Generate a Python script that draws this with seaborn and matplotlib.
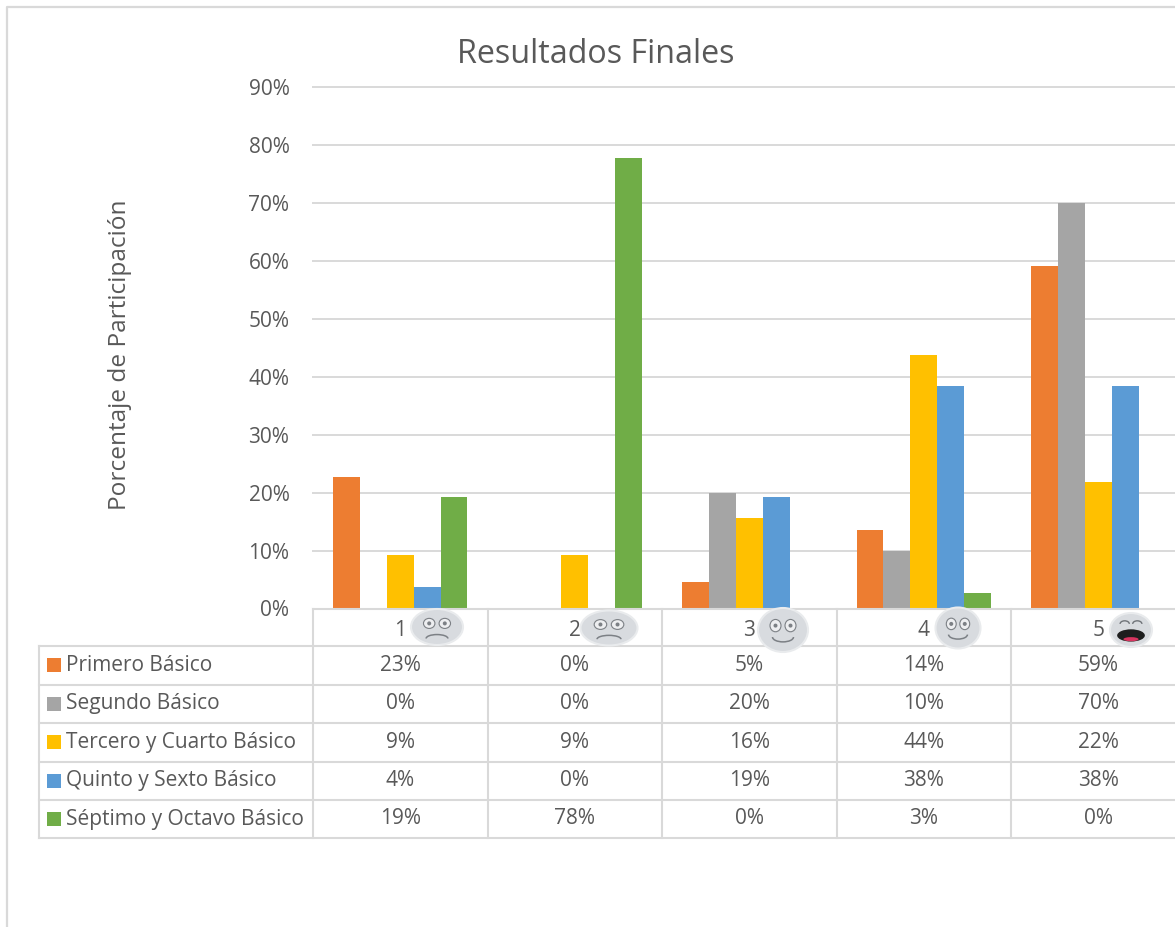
import matplotlib
matplotlib.use("Agg")
import matplotlib.pyplot as plt
from matplotlib.patches import Arc, Ellipse, Rectangle
import pandas as pd
import seaborn as sns

# Values (percent)
categories = ["1", "2", "3", "4", "5"]
grades = ["Primero Básico", "Segundo Básico", "Tercero y Cuarto Básico",
          "Quinto y Sexto Básico", "Séptimo y Octavo Básico"]
primero = [22.7, 0, 4.55, 13.6, 59.1]
segundo = [0, 0, 20, 10, 70]
tercero = [9.3, 9.3, 15.6, 43.75, 21.8]
quinto = [3.7, 0, 19.2, 38.4, 38.4]
septimo = [19.3, 77.8, 0, 2.7, 0]
colors = ["#ED7D31", "#A5A5A5", "#FFC000", "#5B9BD5", "#70AD47"]

series = [primero, segundo, tercero, quinto, septimo]
df = pd.DataFrame([
    {"nota": c, "grado": g, "valor": v}
    for g, vals in zip(grades, series)
    for c, v in zip(categories, vals)
])

TXT = "#595959"
GRID = "#D9D9D9"
plt.rcParams["font.family"] = ["Open Sans", "DejaVu Sans"]

W, H = 1175, 927
fig = plt.figure(figsize=(W / 100, H / 100), dpi=100)

# Plot area runs a little past the right edge, the picture is cropped there
left, right, top, bottom = 313, 1185.5, 87, 608.5
ax = fig.add_axes([left / W, 1 - bottom / H, (right - left) / W, (bottom - top) / H])
sns.barplot(data=df, x="nota", y="valor", hue="grado", hue_order=grades, palette=colors,
            width=0.77, gap=0, saturation=1, legend=False, ax=ax, zorder=3)
ax.set_xlim(-0.5, 4.5)
ax.set_ylim(0, 90)
ax.set_yticks(range(0, 100, 10))
ax.set_yticklabels([f"{t}%" for t in range(0, 100, 10)])
ax.set_xlabel("")
ax.set_ylabel("")
ax.yaxis.grid(True, color=GRID, lw=1.4, clip_on=False)
ax.set_axisbelow(True)
sns.despine(ax=ax, left=True, bottom=True)
ax.tick_params(axis="y", length=0, pad=17, labelsize=15, labelcolor=TXT)
ax.tick_params(axis="x", length=0, pad=8, labelsize=15, labelcolor=TXT)

# Overlay in pixel coordinates for the frame, data table and faces
ov = fig.add_axes([0, 0, 1, 1], zorder=5)
ov.set_xlim(0, W)
ov.set_ylim(H, 0)
ov.axis("off")

ov.plot([7, 7, W], [H, 7, 7], color=GRID, lw=1.6)
ov.text(596, 54, "Resultados Finales", fontsize=23.2, color=TXT, ha="center", va="center")
ov.text(120, 355, "Porcentaje de Participación", fontsize=17.6, color=TXT,
        rotation=90, ha="center", va="center")

# Data table
col_x = [313, 487.5, 662, 836.5, 1011, 1185.5]
row_y = [646, 684.5, 723, 761.5, 800, 838]
for y in [bottom] + row_y:
    ov.plot([left if y == bottom else 39, W], [y, y], color=GRID, lw=1.5, zorder=1)
ov.plot([39, 39], [row_y[0], row_y[-1]], color=GRID, lw=1.5, zorder=1)
for x in col_x[:-1]:
    ov.plot([x, x], [bottom, row_y[-1]], color=GRID, lw=1.5, zorder=1)

for i, (g, vals, c) in enumerate(zip(grades, series, colors)):
    yc = (row_y[i] + row_y[i + 1]) / 2
    ov.add_patch(Rectangle((47, yc - 7), 14, 14, color=c, lw=0))
    ov.text(66, yc, g, fontsize=15, color=TXT, ha="left", va="center")
    for j, v in enumerate(vals):
        ov.text((col_x[j] + col_x[j + 1]) / 2, yc, f"{v:.0f}%", fontsize=15,
                color=TXT, ha="center", va="center")


# Faces sit on top of the category row
def face(cx, cy, w, h, mouth):
    ov.add_patch(Ellipse((cx, cy), w, h, fc="#D8DBDF", ec="#E9EBED", lw=1.5, zorder=4))
    dx = w * 0.15
    for s in (-1, 1):
        ex, ey = cx + s * dx, cy - h * 0.1
        if mouth == "laugh":
            # closed eyes
            ov.add_patch(Arc((ex, ey - h * 0.08), w * 0.22, h * 0.18, theta1=180, theta2=360,
                             color="#6F7378", lw=1, zorder=5))
        else:
            ov.add_patch(Ellipse((ex, ey), w * 0.22, h * 0.28,
                                 fc="#EDEEF0", ec="#7C8085", lw=0.8, zorder=5))
            ov.add_patch(Ellipse((ex, ey), 4, 4, fc="#7C8085", lw=0, zorder=6))
    mw, mh = w * 0.42, h * 0.22
    if mouth == "sad":
        ov.add_patch(Arc((cx, cy + h * 0.32), mw, mh, theta1=180, theta2=360,
                         color="#7C8085", lw=1.1, zorder=5))
    elif mouth == "happy":
        ov.add_patch(Arc((cx, cy + h * 0.16), mw, mh, theta1=0, theta2=180,
                         color="#7C8085", lw=1.1, zorder=5))
    else:
        ov.add_patch(Ellipse((cx, cy + h * 0.16), w * 0.66, h * 0.36, fc="#1E1E1E", lw=0, zorder=5))
        ov.add_patch(Ellipse((cx, cy + h * 0.27), w * 0.36, h * 0.12, fc="#D8345F", lw=0, zorder=6))


face(437, 627, 52, 36, "sad")
face(609, 628, 57, 35, "sad")
face(783, 630, 50, 44, "happy")
face(958, 628, 45, 41, "happy")
face(1131, 630, 42, 34, "laugh")

fig.savefig("out.png", dpi=100)
